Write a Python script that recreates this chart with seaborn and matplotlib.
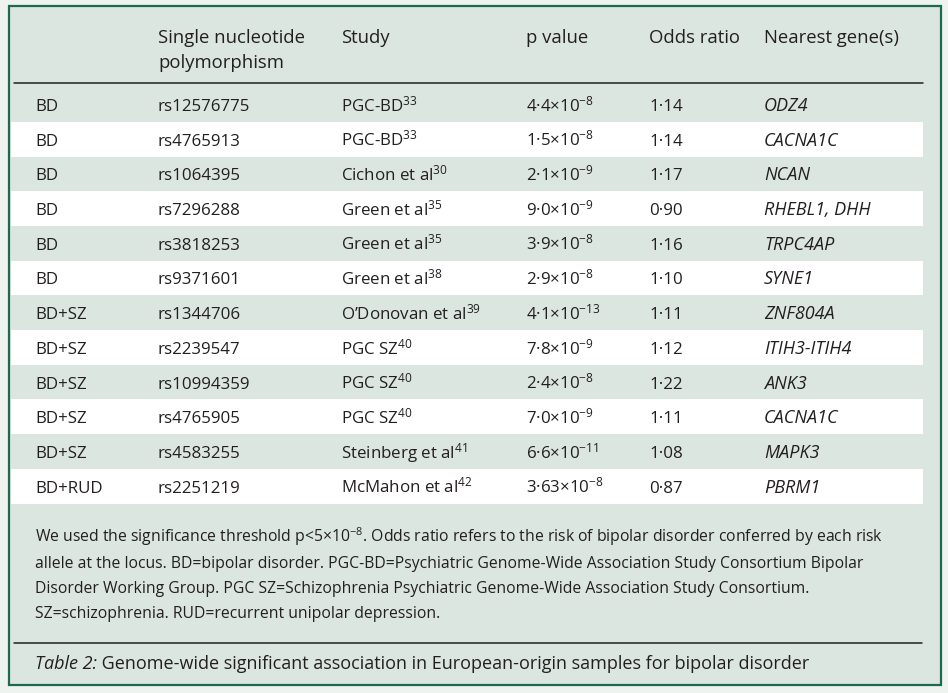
import matplotlib
matplotlib.use("Agg")
import matplotlib.pyplot as plt
import seaborn as sns
from matplotlib.patches import Rectangle

sns.set_theme(style="white")
plt.rcParams['font.family'] = ['Open Sans', 'DejaVu Sans']
plt.rcParams['mathtext.fontset'] = 'custom'
plt.rcParams['mathtext.rm'] = 'Open Sans'
plt.rcParams['mathtext.it'] = 'Open Sans:italic'
plt.rcParams['figure.dpi'] = 100

#%% Table content
headers = ["", "Single nucleotide\npolymorphism", "Study", "p value", "Odds ratio", "Nearest gene(s)"]

phenotype = ["BD", "BD", "BD", "BD", "BD", "BD",
             "BD+SZ", "BD+SZ", "BD+SZ", "BD+SZ", "BD+SZ", "BD+RUD"]
snp = ["rs12576775", "rs4765913", "rs1064395", "rs7296288", "rs3818253", "rs9371601",
       "rs1344706", "rs2239547", "rs10994359", "rs4765905", "rs4583255", "rs2251219"]
study = ["PGC-BD", "PGC-BD", "Cichon et al", "Green et al", "Green et al", "Green et al",
         "O\u2019Donovan et al", "PGC SZ", "PGC SZ", "PGC SZ", "Steinberg et al", "McMahon et al"]
study_ref = ["33", "33", "30", "35", "35", "38", "39", "40", "40", "40", "41", "42"]
p_mantissa = ["4\u00b74", "1\u00b75", "2\u00b71", "9\u00b70", "3\u00b79", "2\u00b79",
              "4\u00b71", "7\u00b78", "2\u00b74", "7\u00b70", "6\u00b76", "3\u00b763"]
p_exponent = ["-8", "-8", "-9", "-9", "-8", "-8", "-13", "-9", "-8", "-9", "-11", "-8"]
odds_ratio = ["1\u00b714", "1\u00b714", "1\u00b717", "0\u00b790", "1\u00b716", "1\u00b710",
              "1\u00b711", "1\u00b712", "1\u00b722", "1\u00b711", "1\u00b708", "0\u00b787"]
genes = ["ODZ4", "CACNA1C", "NCAN", "RHEBL1, DHH", "TRPC4AP", "SYNE1",
         "ZNF804A", "ITIH3-ITIH4", "ANK3", "CACNA1C", "MAPK3", "PBRM1"]

footnote = [
    "We used the significance threshold p<5$\\times$10$^{-8}$. Odds ratio refers to the risk of bipolar disorder conferred by each risk",
    "allele at the locus. BD=bipolar disorder. PGC-BD=Psychiatric Genome-Wide Association Study Consortium Bipolar",
    "Disorder Working Group. PGC SZ=Schizophrenia Psychiatric Genome-Wide Association Study Consortium.",
    "SZ=schizophrenia. RUD=recurrent unipolar depression.",
]
caption_label = "Table 2:"
caption_text = " Genome-wide significant association in European-origin samples for bipolar disorder"

#%% Layout (pixel coordinates)
bg = "#dce6e1"
green = "#1d6b4c"
ink = "#231f20"
col_x = [35, 158, 341, 526, 649, 764]
row0 = 104.5
row_h = 34.7
fs = 12.2

fig = plt.figure(figsize=(9.48, 6.93), dpi=100)
fig.patch.set_facecolor("#eef3f0")
ax = fig.add_axes([0, 0, 1, 1])
ax.set_xlim(0, 948)
ax.set_ylim(693, 0)
ax.axis("off")

ax.add_patch(Rectangle((9, 6), 932, 679, facecolor=bg, edgecolor=green, linewidth=1.6))

# header
for x, h in zip(col_x, headers):
    for k, line in enumerate(h.split("\n")):
        ax.text(x, 43 + 25 * k, line, fontsize=13.3, color=ink, va="baseline")
ax.plot([14, 923], [83, 83], color=ink, lw=1.1)

# body rows
for i in range(len(snp)):
    yc = row0 + row_h * i
    if i % 2 == 1:
        ax.add_patch(Rectangle((11, yc - row_h / 2), 912, row_h, facecolor="white", edgecolor="none"))
    yb = yc + 6.5
    ax.text(col_x[0], yb, phenotype[i], fontsize=fs, color=ink, va="baseline")
    ax.text(col_x[1], yb, snp[i], fontsize=fs, color=ink, va="baseline")
    ax.text(col_x[2], yb, study[i] + "$^{\\mathrm{" + study_ref[i] + "}}$", fontsize=fs, color=ink, va="baseline")
    ax.text(col_x[3], yb, p_mantissa[i] + "$\\times$10$^{\\mathrm{" + p_exponent[i] + "}}$", fontsize=fs, color=ink, va="baseline")
    ax.text(col_x[4], yb, odds_ratio[i], fontsize=fs, color=ink, va="baseline")
    ax.text(col_x[5], yb, genes[i], fontsize=13, color=ink, va="baseline", style="italic")

# footnote
for k, line in enumerate(footnote):
    ax.text(35, 542 + 25.5 * k, line, fontsize=11.3, color=ink, va="baseline")

ax.plot([14, 922], [643, 643], color=ink, lw=1.1)
t = ax.text(35, 669, caption_label, fontsize=13, color=ink, va="baseline", style="italic")
fig.canvas.draw()
bb = t.get_window_extent()
x_end = ax.transData.inverted().transform((bb.x1, 0))[0]
ax.text(x_end, 669, caption_text, fontsize=13, color=ink, va="baseline")

fig.savefig("out.png", dpi=100, facecolor=fig.get_facecolor())
